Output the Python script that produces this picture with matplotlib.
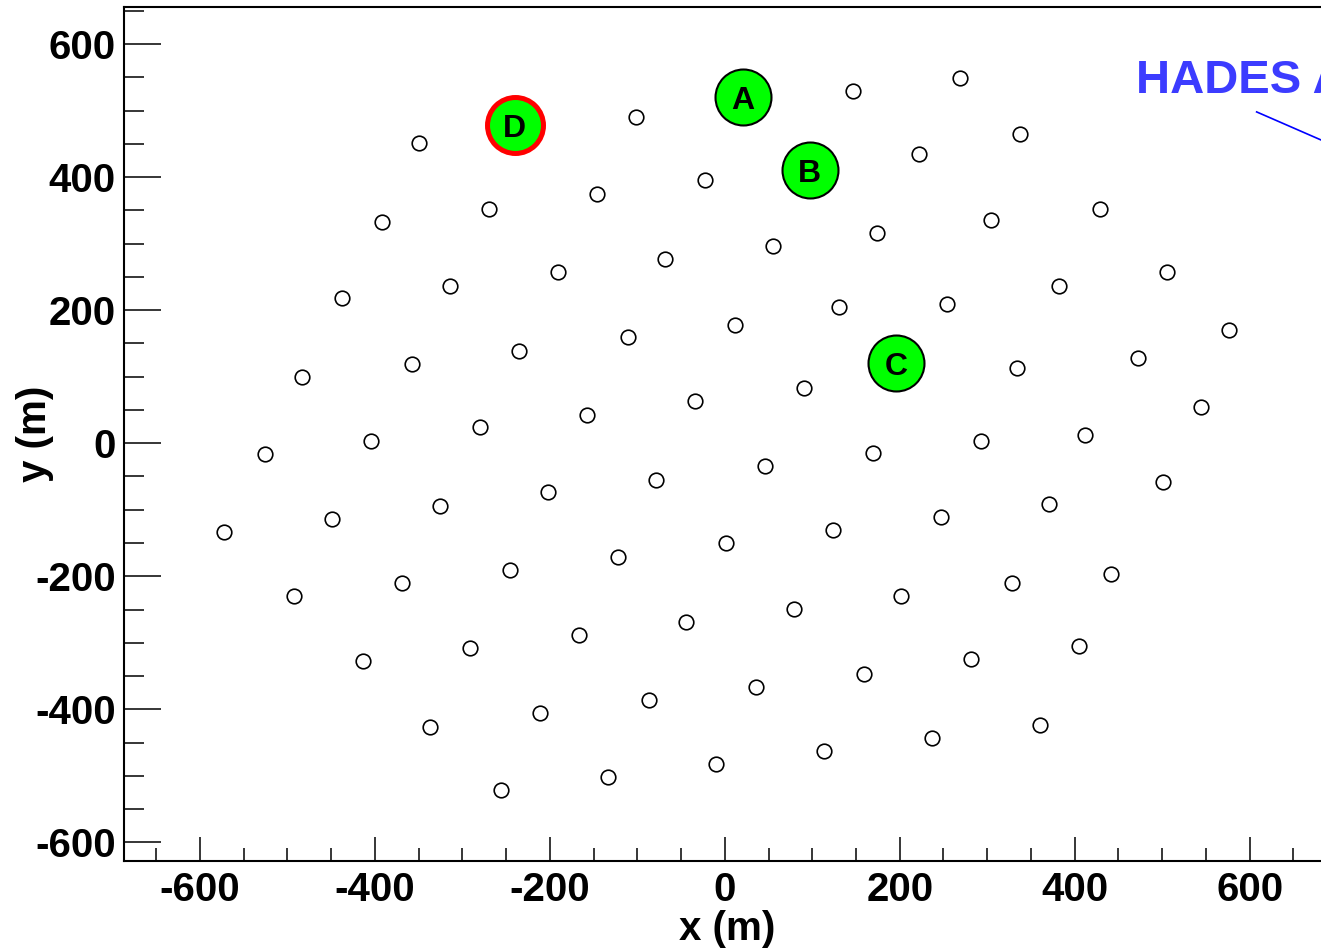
import matplotlib
matplotlib.use("Agg")
import matplotlib.pyplot as plt
from matplotlib.ticker import MultipleLocator, FixedLocator

plt.rcParams['font.family'] = ['Liberation Sans', 'DejaVu Sans']
plt.rcParams['axes.unicode_minus'] = False

# Detector positions (m)
det_x = [-349, -269, -392, -314, -438, -235, -358, -483, -280, -404, -526,
         -101, 146, -146, -23, 222, -191, -68, 55, 174, -111, 12, 131,
         -157, -34, 90, 170,
         269, 338, 304, 429, 254, 382, 505, 334, 472, 576, 293, 412, 544,
         -572, -449, -326, -492, -369, -246, -414, -291, -337, -256,
         -202, -79, 46, -122, 1, 124, -167, -44, 79, 202, -211, -87, 36, 159,
         -133, -10, 113,
         501, 371, 247, 328, 442, 282, 405, 237, 360]
det_y = [451, 352, 332, 237, 218, 139, 119, 100, 24, 4, -16,
         490, 529, 375, 395, 434, 257, 277, 296, 316, 159, 178, 204,
         43, 63, 83, -15,
         549, 465, 335, 352, 209, 237, 257, 113, 128, 170, 4, 12, 54,
         -133, -114, -94, -229, -210, -190, -327, -308, -426, -521,
         -74, -55, -35, -171, -150, -131, -288, -269, -249, -229, -406, -386, -367, -347,
         -502, -482, -462,
         -58, -91, -111, -210, -196, -325, -305, -443, -423]

# Highlighted stations
sel_labels = ['A', 'B', 'C', 'D']
sel_x = [21, 97, 196, -240]
sel_y = [520, 410, 120, 478]
sel_edge = ['black', 'black', 'black', 'red']
sel_edgew = [1.5, 1.5, 1.5, 3.6]

# Axis ticks
major_ticks = [-600, -400, -200, 0, 200, 400, 600]

fig = plt.figure(figsize=(13.21, 9.49), dpi=100)
W, H = 1321, 949
left_px, right_px, top_px, bottom_px = 124, 1424.6, 7, 861
ax = fig.add_axes([left_px / W, (H - bottom_px) / H,
                   (right_px - left_px) / W, (bottom_px - top_px) / H])

ax.plot(det_x, det_y, linestyle='none', marker='o', markersize=10.5,
        markerfacecolor='none', markeredgecolor='black', markeredgewidth=1.2)

for lab, x, y, ec, ew in zip(sel_labels, sel_x, sel_y, sel_edge, sel_edgew):
    ax.plot([x], [y], linestyle='none', marker='o', markersize=40.3,
            markerfacecolor='#00ff00', markeredgecolor=ec, markeredgewidth=ew,
            zorder=3)
    ax.annotate(lab, (x, y), xytext=(0, -2.4), textcoords='offset points',
                ha='center', va='center', fontsize=23,
                fontweight='bold', color='black', zorder=4)

# HADES annotation (cut by the figure edge, as in the original)
ax.text(470, 526, 'HADES Array', ha='left', va='baseline', fontsize=34,
        fontweight='bold', color='#3c3cff', clip_on=False)
ax.plot([608, 772], [498, 404], color='#0000ff', linewidth=1.2)

ax.set_xlim(-686.8, 800)
ax.set_ylim(-628, 655.7)

ax.xaxis.set_major_locator(FixedLocator(major_ticks))
ax.xaxis.set_minor_locator(MultipleLocator(50))
ax.yaxis.set_major_locator(FixedLocator(major_ticks))
ax.yaxis.set_minor_locator(MultipleLocator(50))

ax.tick_params(axis='x', which='major', direction='in', length=17.3, width=1.1,
               labelsize=29, pad=7.5, top=False)
ax.tick_params(axis='x', which='minor', direction='in', length=9.4, width=1.1,
               top=False)
ax.tick_params(axis='y', which='major', direction='in', length=26.6, width=1.1,
               labelsize=29, pad=6, right=False)
ax.tick_params(axis='y', which='minor', direction='in', length=14.4, width=1.1,
               right=False)
for lab in ax.get_xticklabels() + ax.get_yticklabels():
    lab.set_fontweight('bold')

for s in ax.spines.values():
    s.set_linewidth(1.5)

ax.set_xlabel('x (m)', fontsize=29, fontweight='bold', va='center')
ax.xaxis.set_label_coords((727 - left_px) / (right_px - left_px),
                          (bottom_px - 929) / (bottom_px - top_px))
ax.set_ylabel('y (m)', fontsize=29, fontweight='bold', va='center')
ax.yaxis.set_label_coords((35 - left_px) / (right_px - left_px), 0.5)

fig.savefig('out.png', dpi=100)
